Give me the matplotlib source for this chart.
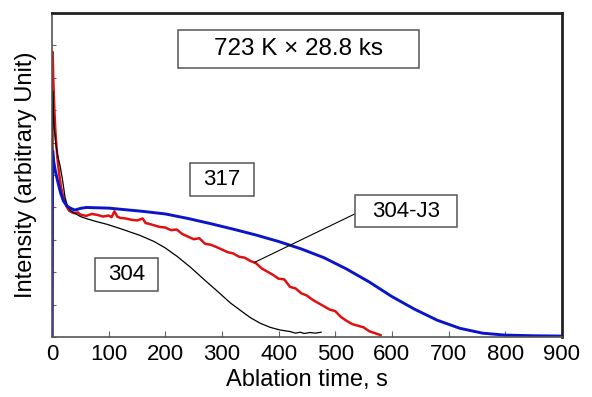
import matplotlib.pyplot as plt
from matplotlib.patches import Rectangle

plt.rcParams['font.family'] = ['Liberation Sans', 'DejaVu Sans']

# 304 (black)
t_304 = [0, 0.5, 1, 2, 4, 7, 10, 14, 18, 23, 28, 33, 40, 50, 60, 75, 97, 120, 155, 180,
         199, 220, 244, 270, 296, 315, 332, 350, 367, 385, 402, 420, 430, 438, 445, 455, 465, 475]
i_304 = [0, 4.0, 7.6, 7.0, 6.4, 5.9, 5.6, 5.3, 4.9, 4.3, 4.0, 3.9, 3.82, 3.72, 3.66, 3.58, 3.48, 3.35, 3.14, 2.95,
         2.76, 2.5, 2.16, 1.75, 1.35, 1.05, 0.83, 0.6, 0.43, 0.3, 0.22, 0.17, 0.12, 0.15, 0.11, 0.14, 0.12, 0.15]

# 304-J3 (red)
t_j3 = [0, 0.5, 1, 2, 4, 6, 9, 12, 16, 20, 25, 30, 35, 40, 45,
        50, 60, 70, 80, 90, 100, 105, 110, 115, 120, 130, 140, 150, 160, 165, 170, 180, 190, 200,
        210, 220, 230, 240, 250, 260, 270, 280, 290, 300, 310, 320, 330, 340, 350, 360, 370, 380,
        390, 400, 410, 420, 430, 440, 450, 460, 470, 480, 490, 500, 510, 520, 530, 540, 550, 560,
        570, 580]
i_j3 = [0, 5.0, 8.8, 8.0, 7.0, 6.3, 5.6, 5.1, 4.6, 4.3, 4.05, 3.9, 3.85, 3.82, 3.85,
        3.78, 3.74, 3.80, 3.77, 3.72, 3.75, 3.70, 3.88, 3.72, 3.68, 3.66, 3.62, 3.60, 3.66, 3.52, 3.50, 3.45, 3.40, 3.38,
        3.30, 3.32, 3.18, 3.10, 3.02, 3.05, 2.88, 2.85, 2.78, 2.70, 2.62, 2.58, 2.48, 2.45, 2.35, 2.28, 2.12, 2.02,
        1.92, 1.80, 1.78, 1.55, 1.50, 1.35, 1.28, 1.15, 1.05, 0.95, 0.85, 0.80, 0.62, 0.50, 0.40, 0.35, 0.30, 0.18,
        0.12, 0.06]

# 317 (blue)
t_317 = [0, 0.5, 1, 3, 6, 10, 15, 20, 26, 32, 40, 50, 60, 80, 100, 130, 160, 200, 240, 280,
         320, 360, 400, 440, 480, 520, 560, 600, 640, 680, 720, 760, 800, 850, 900]
i_317 = [0, 3.5, 5.75, 5.4, 5.1, 4.8, 4.45, 4.2, 4.05, 3.98, 3.92, 3.97, 4.0, 3.99, 3.98, 3.93, 3.88, 3.8, 3.66, 3.5,
         3.33, 3.15, 2.95, 2.72, 2.45, 2.1, 1.7, 1.25, 0.86, 0.52, 0.27, 0.12, 0.06, 0.04, 0.03]

x_ticks = [0, 100, 200, 300, 400, 500, 600, 700, 800, 900]

fig = plt.figure(figsize=(5.92, 3.97), dpi=100)
ax = fig.add_axes([0.088, 0.151, 0.861, 0.816])

ax.plot(t_j3, i_j3, color='#e01010', lw=1.8)
ax.plot(t_304, i_304, color='black', lw=0.9)
ax.plot(t_317, i_317, color='#0a14c8', lw=2.1)

ax.set_xlim(0, 900)
ax.set_ylim(0, 10)
ax.set_xticks(x_ticks)
ax.set_yticks(range(0, 11))
ax.set_yticklabels([])
ax.tick_params(direction='in', labelsize=16, length=4, color='#666666', pad=5)
ax.tick_params(axis='y', length=3)
ax.set_xlabel('Ablation time, s', fontsize=17, labelpad=3)
ax.set_ylabel('Intensity (arbitrary Unit)', fontsize=17, labelpad=6)
for s in ['top', 'right']:
    ax.spines[s].set_linewidth(2)
    ax.spines[s].set_color('#222222')
for s in ['left', 'bottom']:
    ax.spines[s].set_linewidth(1.2)
    ax.spines[s].set_color('#555555')

# label boxes
def box(x0, x1, y0, y1, text, size):
    ax.add_patch(Rectangle((x0, y0), x1 - x0, y1 - y0, fill=True, facecolor='white',
                           edgecolor='#555555', lw=1.1, zorder=4))
    ax.text((x0 + x1) / 2, (y0 + y1) / 2, text, ha='center', va='center',
            fontsize=size, zorder=5)

ax.plot([538, 358], [3.83, 2.31], color='black', lw=0.8, zorder=3)
box(222, 648, 8.30, 9.48, '723 K × 28.8 ks', 17.5)
box(243.5, 356.5, 4.35, 5.37, '317', 16)
box(76, 187, 1.42, 2.44, '304', 16)
box(535, 715, 3.40, 4.38, '304-J3', 16)

fig.savefig('out.png', dpi=100)
